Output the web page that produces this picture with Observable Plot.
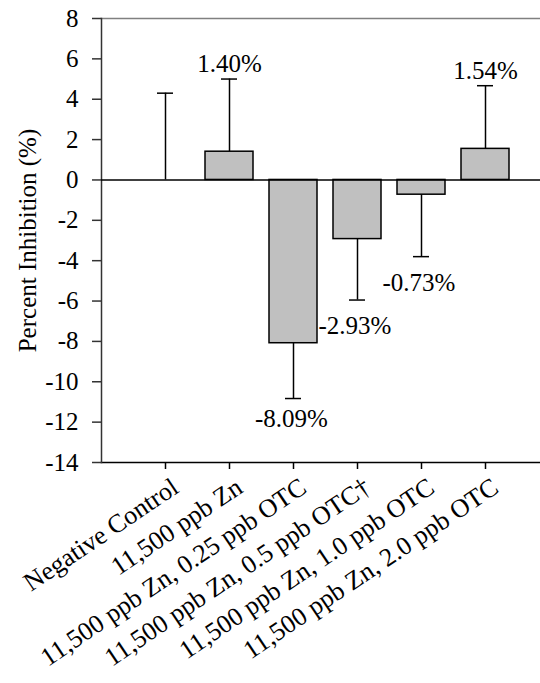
<!DOCTYPE html>
<html>
<head>
<meta charset="utf-8">
<script src="https://cdn.jsdelivr.net/npm/d3@7"></script>
<script src="https://cdn.jsdelivr.net/npm/@observablehq/plot@0.6"></script>
<style>
  html, body { margin: 0; padding: 0; background: #fff; }
  svg, svg text { font-family: "Liberation Serif", "Times New Roman", serif !important; }
</style>
</head>
<body>
<div id="chart"></div>
<script>
// Categories (x axis tick labels)
const categories = [
  "Negative Control",
  "11,500 ppb Zn",
  "11,500 ppb Zn, 0.25 ppb OTC",
  "11,500 ppb Zn, 0.5 ppb OTC\u2020",
  "11,500 ppb Zn, 1.0 ppb OTC",
  "11,500 ppb Zn, 2.0 ppb OTC"
];
// Mean percent inhibition
const values = [0, 1.40, -8.09, -2.93, -0.73, 1.54];
// Error bar magnitudes (drawn away from zero)
const errors = [4.30, 3.60, 2.74, 3.02, 3.07, 3.13];
// Value labels
const valueLabels = ["", "1.40%", "-8.09%", "-2.93%", "-0.73%", "1.54%"];
// Y ticks
const yTicks = [-14, -12, -10, -8, -6, -4, -2, 0, 2, 4, 6, 8];

const data = categories.map((c, i) => ({
  cat: c,
  value: values[i],
  err: errors[i],
  end: values[i] >= 0 ? values[i] + errors[i] : values[i] - errors[i],
  label: valueLabels[i]
}));

const above = data.filter(d => d.label && d.value > 0);
const below = data.filter(d => d.label && d.value < -5);
const side = data.filter(d => d.label && d.value < 0 && d.value >= -5);

const font = "Liberation Serif";

const chart = Plot.plot({
  width: 540,
  height: 683,
  marginTop: 18,
  marginBottom: 221,
  marginLeft: 101,
  marginRight: 0,
  style: { fontFamily: font, fontSize: "25px", color: "black", background: "white", overflow: "visible" },
  x: { domain: categories, range: [101, 549], paddingInner: 0.25, paddingOuter: 0.625, label: null },
  y: { domain: [-14, 8], label: null },
  marks: [
    Plot.frame({ anchor: "top", stroke: "#808080", strokeWidth: 1.5 }),
    Plot.frame({ anchor: "bottom", stroke: "black", strokeWidth: 1.5 }),
    Plot.frame({ anchor: "left", stroke: "#333", strokeWidth: 1.5 }),
    Plot.axisY({ ticks: yTicks, tickSize: 9, tickPadding: 14, fontSize: 25, fontFamily: font, tickFormat: d => String(d), label: null, stroke: "#333", strokeWidth: 1.5 }),
    Plot.axisX({ tickSize: 7, tickFormat: () => "", label: null, stroke: "black", strokeWidth: 1.5 }),
    Plot.text(categories, {
      x: d => d, frameAnchor: "bottom", text: d => d,
      rotate: -34, textAnchor: "end", lineAnchor: "middle",
      dx: 10, dy: 22, fontSize: 26, fontFamily: font, fill: "black"
    }),
    Plot.text(["Percent Inhibition (%)"], {
      frameAnchor: "left", text: d => d, rotate: -90, dx: -74,
      textAnchor: "middle", lineAnchor: "middle", fontSize: 25, fontFamily: font, fill: "black"
    }),
    Plot.ruleX(data, { x: "cat", y1: "value", y2: "end", stroke: "black", strokeWidth: 1.5 }),
    Plot.tickY(data, { x: "cat", y: "end", stroke: "black", strokeWidth: 1.5, insetLeft: 16, insetRight: 16 }),
    Plot.barY(data, { x: "cat", y: "value", fill: "#c0c0c0", stroke: "black", strokeWidth: 1.5 }),
    Plot.ruleY([0], { stroke: "black", strokeWidth: 1.5 }),
    Plot.text(above, { x: "cat", y: "end", text: "label", dy: -15, lineAnchor: "middle", fontSize: 25, fontFamily: font, fill: "black" }),
    Plot.text(below, { x: "cat", y: "end", text: "label", dx: -2, dy: 20, lineAnchor: "middle", fontSize: 25, fontFamily: font, fill: "black" }),
    Plot.text(side, { x: "cat", y: "end", text: "label", dx: -39, dy: 26, textAnchor: "start", lineAnchor: "middle", fontSize: 25, fontFamily: font, fill: "black" })
  ]
});
document.getElementById("chart").appendChild(chart);
</script>
</body>
</html>
